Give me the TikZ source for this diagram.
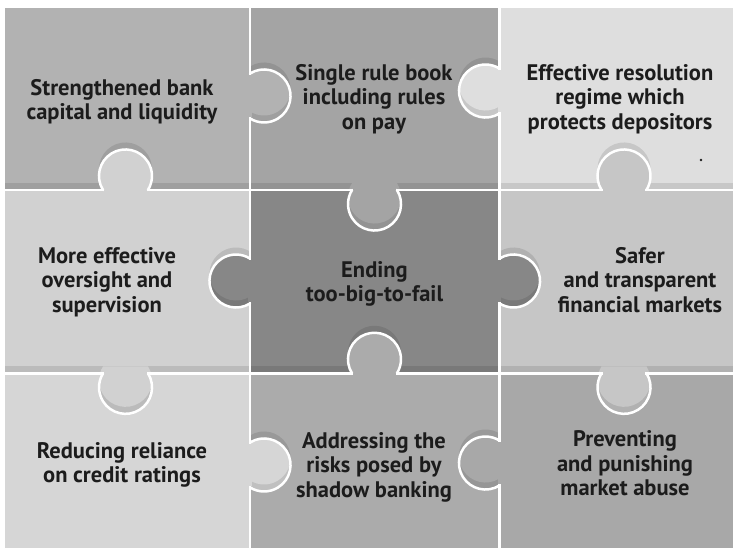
\documentclass[tikz,border=0pt]{standalone}
\usepackage{fontspec}
\setmainfont{PT Sans}
\usepackage{tikz}
\usetikzlibrary{positioning}
\definecolor{tlcolor}{gray}{0.70}
\definecolor{tmcolor}{gray}{0.645}
\definecolor{trcolor}{gray}{0.87}
\definecolor{mlcolor}{gray}{0.82}
\definecolor{ccolor}{gray}{0.53}
\definecolor{mrcolor}{gray}{0.775}
\definecolor{blcolor}{gray}{0.84}
\definecolor{bmcolor}{gray}{0.67}
\definecolor{brcolor}{gray}{0.66}
\definecolor{txtcolor}{gray}{0.11}

\begin{document}
\begin{tikzpicture}[
  x=1pt, y=1pt,
  seam/.style={draw=white, line width=2.5pt, line cap=round, line join=round},
  pieceshadow/.style={fill=black, opacity=0.1},
  knob/.style={insert path={(-22.5,0) arc[start angle=212, end angle=-32, radius=26.5]}},
  knobc/.style={insert path={(-22.5,0) arc[start angle=212, end angle=-32, radius=26.5] -- cycle}},
  lbl/.style={font=\bfseries\fontsize{22.5}{24.5}\selectfont, text=txtcolor, align=center},
]
\useasboundingbox (0,0) rectangle (733,550);
\fill[white] (0,0) rectangle (733,550);
% Pieces
\foreach \xa/\ya/\xb/\yb/\col in {5/360/250/542/tlcolor, 250/360/499.5/542/tmcolor, 499.5/360/733/542/trcolor, 5/176.7/250/360/mlcolor, 250/176.7/499.5/360/ccolor, 499.5/176.7/733/360/mrcolor, 5/2/250/176.7/blcolor, 250/2/499.5/176.7/bmcolor, 499.5/2/733/176.7/brcolor} {
  \fill[fill=\col] (\xa,\ya) rectangle (\xb,\yb);
}
\foreach \yl in {360,176.7} {
  \fill[pieceshadow] (5,\yl) rectangle (733,\yl+7);
}
% Knobs: x/y/rotation/owner
\def\knobs{250/454/-90/tlcolor, 125.5/360/0/mlcolor, 499.5/459/90/trcolor, 374.5/360/180/tmcolor, 624/360/0/mrcolor, 250/269/90/ccolor, 499.5/269/-90/ccolor, 374.5/176.7/0/bmcolor, 125.5/176.7/180/mlcolor, 250/85/-90/blcolor, 624/176.7/180/mrcolor, 499.5/87/90/brcolor}
\foreach \x/\y/\a/\col in \knobs {
  \pgfmathsetmacro\sx{7*sin(\a)}
  \pgfmathsetmacro\sy{7*cos(\a)}
  \begin{scope}[shift={(\x,\y)}, rotate=\a]
    \ifnum\a=180
      \begin{scope}
        \clip (-30,-8) rectangle (30,0);
        \fill[fill=\col, shift={(\sx,\sy)}, knobc];
      \end{scope}
    \else
      \fill[pieceshadow, shift={(\sx,\sy)}, knobc];
    \fi
    \fill[fill=\col, knobc];
    \ifnum\a=0 \else
      \begin{scope}
        \clip[knobc];
        \fill[pieceshadow] (-30,-2) rectangle (30,45);
        \fill[fill=\col, shift={(\sx,\sy)}, knobc];
      \end{scope}
    \fi
  \end{scope}
}
% Seams
\draw[seam] (250,542) -- (250,2);
\draw[seam] (499.5,542) -- (499.5,2);
\draw[seam] (5,360) -- (733,360);
\draw[seam] (5,176.7) -- (733,176.7);
\foreach \x/\y/\a/\col in \knobs {
  \begin{scope}[shift={(\x,\y)}, rotate=\a]
    \fill[fill=\col] (-21.2,-1.6) rectangle (21.2,1.6);
    \draw[seam, knob];
  \end{scope}
}
% Labels
\node[lbl] (tl) at (122,448) {Strengthened bank\\capital and liquidity};
\node[lbl] (tm) at (374,451) {Single rule book\\including rules\\on pay};
\node[lbl] (tr) at (620,451) {Effective resolution\\regime which\\protects depositors};
\node[lbl] (ml) at (107,268) {More effective\\oversight and\\supervision};
\node[lbl] (c) at (374.5,266) {Ending\\too-big-to-fail};
\node[lbl] (mr) at (640,270) {Safer\\and transparent\\financial markets};
\node[lbl] (bl) at (122,85) {Reducing reliance\\on credit ratings};
\node[lbl] (bm) at (374,83) {Addressing the\\risks posed by\\shadow banking};
\node[lbl] (br) at (625,86.5) {Preventing\\and punishing\\market abuse};
\fill[txtcolor] (701,390) circle (1.3);
\end{tikzpicture}
\end{document}
